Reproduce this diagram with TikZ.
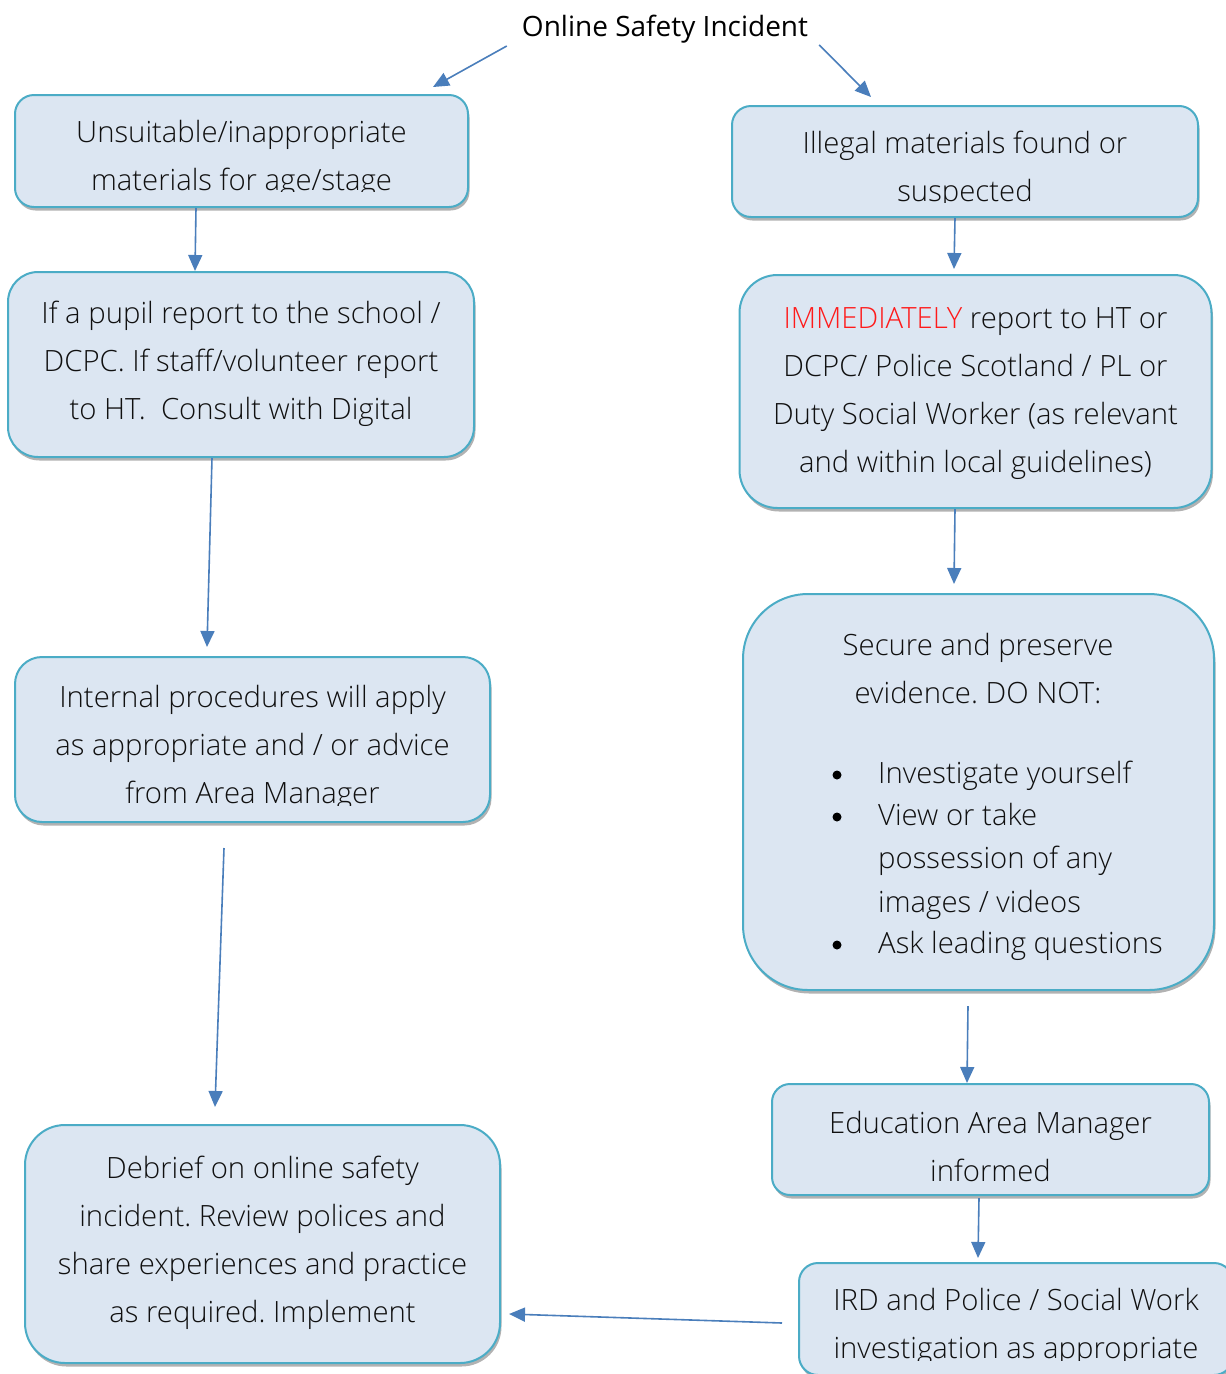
\documentclass[tikz,border=0pt]{standalone}
\usepackage{fontspec}
\setmainfont{Open Sans}
\newfontfamily\lightfont{Open Sans Light}
\usetikzlibrary{arrows.meta,shadows,calc}
\definecolor{boxfill}{HTML}{DCE6F2}
\definecolor{boxdraw}{HTML}{4BACC6}
\definecolor{arrowc}{HTML}{4A7EBB}
\definecolor{txtc}{HTML}{101010}
\definecolor{redc}{HTML}{FF1A1A}
\newcommand\fstrut{\rule{0pt}{25pt}}
\frenchspacing
\tikzset{
  box/.style={draw=boxdraw, line width=2pt, fill=boxfill, rectangle, inner sep=0pt,
    drop shadow={shadow xshift=1.5pt, shadow yshift=-3.5pt, opacity=0.3, fill=black}},
  btxt/.style={font=\lightfont\fontsize{29.3}{48}\selectfont, align=center, inner sep=0pt, anchor=north, text=txtc},
  ltxt/.style={font=\lightfont\fontsize{29.3}{48}\selectfont, inner sep=0pt, anchor=base west, text=txtc},
  bul/.style={circle, fill=black, minimum size=9pt, inner sep=0pt},
  conn/.style={draw=arrowc, line width=1.6pt, -{Triangle[length=16pt,width=14pt]}}
}
\begin{document}
\begin{tikzpicture}[x=1pt,y=-1pt]
\useasboundingbox (0,0) rectangle (1226,1374);
\clip (0,0) rectangle (1226,1374);
\fill[white] (0,0) rectangle (1226,1374);

% title
\node[font=\fontsize{28}{34}\selectfont, anchor=base, inner sep=0pt] (t0) at (665,36) {Online Safety Incident};

% boxes
\node[box, rounded corners=19pt, minimum width=453pt, minimum height=112pt] (b1) at (241.5,151) {};
\node[box, rounded corners=19pt, minimum width=466pt, minimum height=111pt] (b2) at (965,161.5) {};
\node[box, rounded corners=30pt, minimum width=466pt, minimum height=185pt] (b3) at (241,364.5) {};
\node[box, rounded corners=38pt, minimum width=472pt, minimum height=233pt] (b4) at (975.5,391.5) {};
\node[box, rounded corners=27pt, minimum width=475pt, minimum height=165pt] (b5) at (252.5,739.5) {};
\node[box, rounded corners=65pt, minimum width=471pt, minimum height=396pt] (b6) at (978.5,792) {};
\node[box, rounded corners=18pt, minimum width=437pt, minimum height=111pt] (b7) at (990.5,1139.5) {};
\node[box, rounded corners=19pt, minimum width=434pt, minimum height=112pt] (b8) at (1016,1319) {};
\node[box, rounded corners=40pt, minimum width=475pt, minimum height=238pt] (b9) at (262.5,1244) {};

% texts
\begin{scope}
\clip (0,0) rectangle (1226,191);
\node[btxt] (t1) at (241.5,117) {\fstrut Unsuitable/inappropriate\\materials for age/stage};
\end{scope}
\begin{scope}
\clip (0,0) rectangle (1226,202);
\node[btxt] (t2) at (965,128) {\fstrut Illegal materials found or\\suspected};
\end{scope}
\node[btxt] (t3) at (241,298) {\fstrut If a pupil report to the school /\\DCPC. If staff/volunteer report\\to HT.\ \ Consult with Digital};
\node[btxt] (t4) at (975.5,303) {\fstrut{\color{redc}IMMEDIATELY} report to HT or\\DCPC/ Police Scotland / PL or\\Duty Social Worker (as relevant\\and within local guidelines)};
\begin{scope}
\clip (0,0) rectangle (1226,805);
\node[btxt] (t5) at (252.5,682) {\fstrut Internal procedures will apply\\as appropriate and / or advice\\from Area Manager};
\end{scope}
\node[btxt] (t6) at (978,630) {\fstrut Secure and preserve\\evidence. DO NOT:};
\node[bul] (u1) at (837,775) {};
\node[bul] (u2) at (837,817) {};
\node[bul] (u3) at (837,945) {};
\node[ltxt] (l1) at (878,783) {Investigate yourself};
\node[ltxt] (l2) at (878,825) {View or take};
\node[ltxt] (l3) at (878,868) {possession of any};
\node[ltxt] (l4) at (878,912) {images / videos};
\node[ltxt] (l5) at (878,953) {Ask leading questions};
\node[btxt] (t7) at (990.5,1108) {\fstrut Education Area Manager\\informed};
\begin{scope}
\clip (0,0) rectangle (1226,1360);
\node[btxt] (t8) at (1016,1285) {\fstrut IRD and Police / Social Work\\investigation as appropriate};
\end{scope}
\node[btxt] (t9) at (262.5,1153) {\fstrut Debrief on online safety\\incident. Review polices and\\share experiences and practice\\as required. Implement};

% connectors
\coordinate (a1s) at ($(t0.base west)+(-15,10)$);
\coordinate (a2s) at ($(t0.base east)+(11,9)$);
\draw[conn] (a1s) -- ($(b1.north)+(191.5,-7)$);
\draw[conn] (a2s) -- ($(b2.north)+(-94,-8)$);
\draw[conn] ($(b1.south)+(-45.5,0)$) -- ($(b3.north)+(-46,0)$);
\draw[conn] ($(b2.south)+(-10,0)$) -- ($(b4.north)+(-21.5,-5)$);
\draw[conn] ($(b3.south)+(-29,0)$) -- ($(b5.north)+(-45.5,-9)$);
\draw[conn] ($(b4.south)+(-20.5,0)$) -- ($(b6.north)+(-24.5,-9)$);
\draw[conn] ($(b5.south)+(-28.5,25)$) -- ($(b9.north)+(-47.5,-17)$);
\draw[conn] ($(b6.south)+(-10.5,15)$) -- ($(b7.north)+(-23.5,0)$);
\draw[conn] ($(b7.south)+(-11.5,2)$) -- ($(b8.north)+(-38,-4)$);
\draw[conn] ($(b8.west)+(-16,4)$) -- ($(b9.east)+(8,70)$);
\end{tikzpicture}
\end{document}
